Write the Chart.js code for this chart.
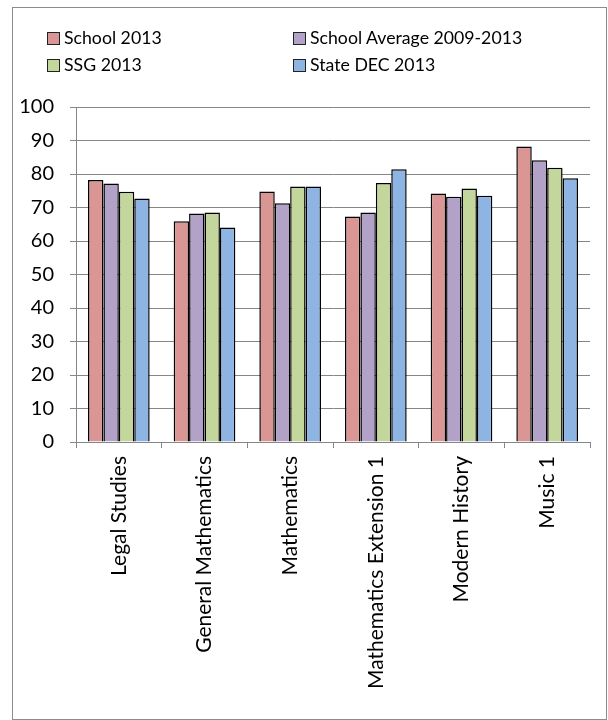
<!DOCTYPE html>
<html>
<head>
<meta charset="utf-8">
<script src="https://cdn.jsdelivr.net/npm/chart.js@4"></script>
<style>
  body { margin: 0; background: #fff; }
  #wrap { position: relative; width: 608px; height: 720px; }
  #frame { position: absolute; left: 12px; top: 7px; width: 593px; height: 711px; border: 1px solid #8c8c8c; }
  canvas { position: absolute; left: 0; top: 0; }
  .lg { position: absolute; font: 17.7px Lato, sans-serif; color: #000; white-space: nowrap; line-height: 20px; }
  .lg span { display: inline-block; width: 11px; height: 11px; border: 1px solid #222; margin-right: 4px; vertical-align: -1px; }
</style>
</head>
<body>
<div id="wrap">
  <div id="frame"></div>
  <canvas id="chart" width="608" height="720"></canvas>
  <div id="legend"></div>
</div>
<script>
const subjects = ['Legal Studies', 'General Mathematics', 'Mathematics', 'Mathematics Extension 1', 'Modern History', 'Music 1'];
const seriesNames = ['School 2013', 'School Average 2009-2013', 'SSG 2013', 'State DEC 2013'];
const school2013 = [78.2, 65.9, 74.8, 67.3, 74.2, 88.2];
const schoolAvg = [77.2, 68.2, 71.3, 68.5, 73.2, 84.1];
const ssg2013 = [74.7, 68.5, 76.3, 77.3, 75.7, 81.9];
const stateDec2013 = [72.7, 64.0, 76.3, 81.4, 73.5, 78.7];
const colors = ['#d99694', '#b3a2c7', '#c3d69b', '#8eb4e3'];
const yTicks = [0, 10, 20, 30, 40, 50, 60, 70, 80, 90, 100];

const values = [school2013, schoolAvg, ssg2013, stateDec2013];
const gridGray = '#868686';

const chart = new Chart(document.getElementById('chart'), {
    type: 'bar',
    data: {
        labels: subjects,
        datasets: seriesNames.map((name, i) => ({
            label: name,
            data: values[i],
            backgroundColor: colors[i],
            borderColor: '#000',
            borderWidth: 1.5,
            categoryPercentage: 0.72,
            barPercentage: 1
        }))
    },
    options: {
        responsive: false,
        animation: false,
        layout: { padding: { left: 0, top: 107, right: 18, bottom: 0 } },
        plugins: {
            legend: { display: false },
            tooltip: { enabled: false }
        },
        scales: {
            x: {
                grid: { drawOnChartArea: false, drawTicks: true, tickLength: 6, color: gridGray, offset: true },
                border: { color: gridGray },
                ticks: { color: '#000', font: { family: 'Lato, sans-serif', size: 21 }, minRotation: 90, maxRotation: 90, padding: 8, autoSkip: false },
                afterFit: s => { s.height = 278; }
            },
            y: {
                min: 0,
                max: 100,
                afterBuildTicks: s => { s.ticks = yTicks.map(v => ({ value: v })); },
                grid: { color: gridGray, tickLength: 6 },
                border: { color: gridGray },
                ticks: { color: '#000', font: { family: 'Lato, sans-serif', size: 20 }, padding: 16 },
                afterFit: s => { s.width = 76; }
            }
        }
    }
});

// two-column legend like the original
const legendPos = [[47, 28], [293, 28], [47, 55], [293, 55]];
const legendEl = document.getElementById('legend');
chart.data.datasets.forEach((ds, i) => {
    const item = document.createElement('div');
    item.className = 'lg';
    item.style.left = legendPos[i][0] + 'px';
    item.style.top = legendPos[i][1] + 'px';
    item.innerHTML = '<span style="background:' + ds.backgroundColor + '"></span>' + ds.label;
    legendEl.appendChild(item);
});
</script>
</body>
</html>
